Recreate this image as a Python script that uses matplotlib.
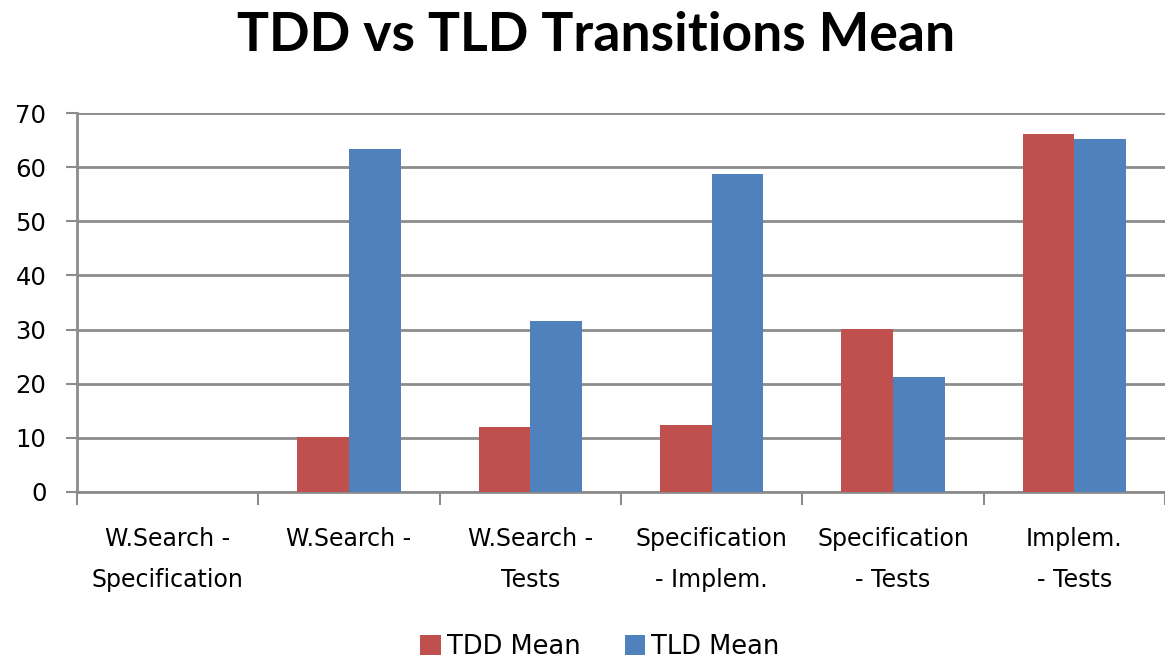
import matplotlib
matplotlib.use("Agg")
import matplotlib.pyplot as plt
import numpy as np

categories = ["W.Search -\nSpecification", "W.Search -\n", "W.Search -\nTests",
              "Specification\n- Implem.", "Specification\n- Tests", "Implem.\n- Tests"]
tdd_mean = [0, 10.1, 12.0, 12.3, 30.1, 66.2]
tld_mean = [0, 63.3, 31.6, 58.7, 21.3, 65.2]
yticks = [0, 10, 20, 30, 40, 50, 60, 70]

plt.rcParams['font.family'] = ['DejaVu Sans']

fig = plt.figure(figsize=(11.65, 6.63), dpi=100)
ax = fig.add_axes([0.0661, 0.258, 0.9339, 0.5715])

x = np.arange(len(categories))
w = 0.285
ax.bar(x - w/2, tdd_mean, w, color="#C0504D", label="TDD Mean", zorder=3)
ax.bar(x + w/2, tld_mean, w, color="#4F81BD", label="TLD Mean", zorder=3)

ax.set_xlim(-0.5, len(categories) - 0.5)
ax.set_ylim(0, 70)
ax.set_yticks(yticks)
ax.set_yticklabels([str(v) for v in yticks], fontsize=17.5)
ax.yaxis.grid(True, color="#8C8C8C", linewidth=2, zorder=0)
ax.set_axisbelow(True)

ax.set_xticks(np.arange(-0.5, len(categories), 1.0))
ax.set_xticklabels([])
ax.set_xticks(x, minor=True)
ax.set_xticklabels(categories, minor=True, fontsize=17, linespacing=1.9)
ax.tick_params(axis='x', which='minor', length=0, pad=25.5)
ax.tick_params(axis='x', which='major', length=9, width=1.5, color="#8C8C8C")
ax.tick_params(axis='y', length=8, width=1.5, color="#8C8C8C", pad=14)

for s in ['top', 'right']:
    ax.spines[s].set_visible(False)
for s in ['left', 'bottom']:
    ax.spines[s].set_color("#8C8C8C")
    ax.spines[s].set_linewidth(2)

fig.text(0.512, 0.947, "TDD vs TLD Transitions Mean", ha='center', va='center',
         fontsize=38.5, fontweight='bold', family=['Lato', 'DejaVu Sans'])

fig.legend(loc='center', bbox_to_anchor=(0.515, 0.024), ncol=2, frameon=False,
           fontsize=18.5, handlelength=0.8, handleheight=0.8, handletextpad=0.25,
           columnspacing=1.7)

fig.savefig("out.png", dpi=100)
